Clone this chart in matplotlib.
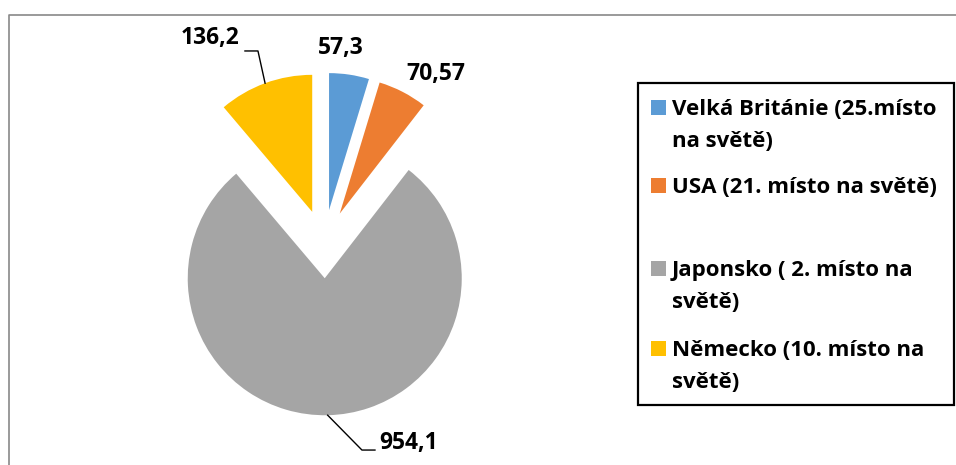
import matplotlib
matplotlib.use("Agg")
import matplotlib.pyplot as plt
import numpy as np
from matplotlib.patches import Rectangle
from matplotlib.lines import Line2D

plt.rcParams["font.family"] = ["Open Sans", "DejaVu Sans"]

# data
countries = [
    "Velká Británie (25.místo\nna světě)",
    "USA (21. místo na světě)",
    "Japonsko ( 2. místo na\nsvětě)",
    "Německo (10. místo na\nsvětě)",
]
values = [57.3, 70.57, 954.1, 136.2]
value_labels = ["57,3", "70,57", "954,1", "136,2"]
colors = ["#5B9BD5", "#ED7D31", "#A5A5A5", "#FFC000"]

W, H = 956, 465
R = 137.0            # pie radius in px
CX, CY = 324, 244    # pie centre, px from top-left


def fig_xy(x, y):
    return x / W, 1 - y / H


fig = plt.figure(figsize=(W / 100, H / 100), dpi=100)
ax = fig.add_axes([0, 0, 1, 1])

wedges, _ = ax.pie(values, colors=colors, startangle=90, counterclock=False,
                   explode=[0.25] * len(values), radius=1,
                   wedgeprops=dict(linewidth=0))
ax.set_xlim(-CX / R, (W - CX) / R)
ax.set_ylim(-(H - CY) / R, CY / R)
ax.axis("off")

# data label placement (axes units, radius = 1)
label_pos = [(0.124, 1.431), (0.818, 1.241), (0.620, -1.455), (-0.832, 1.505)]
# leader lines: (elbow, end) or None
leaders = [None, None, ((0.277, -1.504), (0.372, -1.504)),
           ((-0.482, 1.409), (-0.577, 1.409))]

for w, txt, pos, lead in zip(wedges, value_labels, label_pos, leaders):
    ax.text(pos[0], pos[1], txt, ha="center", va="center",
            fontsize=16.5, fontweight="bold", color="black")
    if lead is not None:
        mid = np.deg2rad((w.theta1 + w.theta2) / 2)
        sx = w.center[0] + w.r * np.cos(mid)
        sy = w.center[1] + w.r * np.sin(mid)
        xs = [sx, lead[0][0], lead[1][0]]
        ys = [sy, lead[0][1], lead[1][1]]
        ax.plot(xs, ys, color="black", lw=1)

# outer chart frame (cropped at right and bottom)
fig.add_artist(Line2D([9 / W, 9 / W, 1], [0, 1 - 15 / H, 1 - 15 / H],
                      transform=fig.transFigure, color="#898989", lw=1.2))

# legend box
x0, y0 = fig_xy(638, 405)
x1, y1 = fig_xy(954, 83)
fig.add_artist(Rectangle((x0, y0), x1 - x0, y1 - y0, transform=fig.transFigure,
                         fill=False, edgecolor="black", lw=1.6))

row_base = [115, 193, 276, 356]
line_step = 32
for lab, col, yb in zip(countries, colors, row_base):
    sx, sy = fig_xy(651, yb)
    fig.add_artist(Rectangle((sx, sy), 15 / W, 15 / H, transform=fig.transFigure,
                             facecolor=col, edgecolor="none"))
    for k, line in enumerate(lab.split("\n")):
        tx, ty = fig_xy(672, yb + k * line_step)
        fig.text(tx, ty, line, ha="left", va="baseline", fontsize=16,
                 fontweight="bold")

fig.savefig("out.png", dpi=100)
